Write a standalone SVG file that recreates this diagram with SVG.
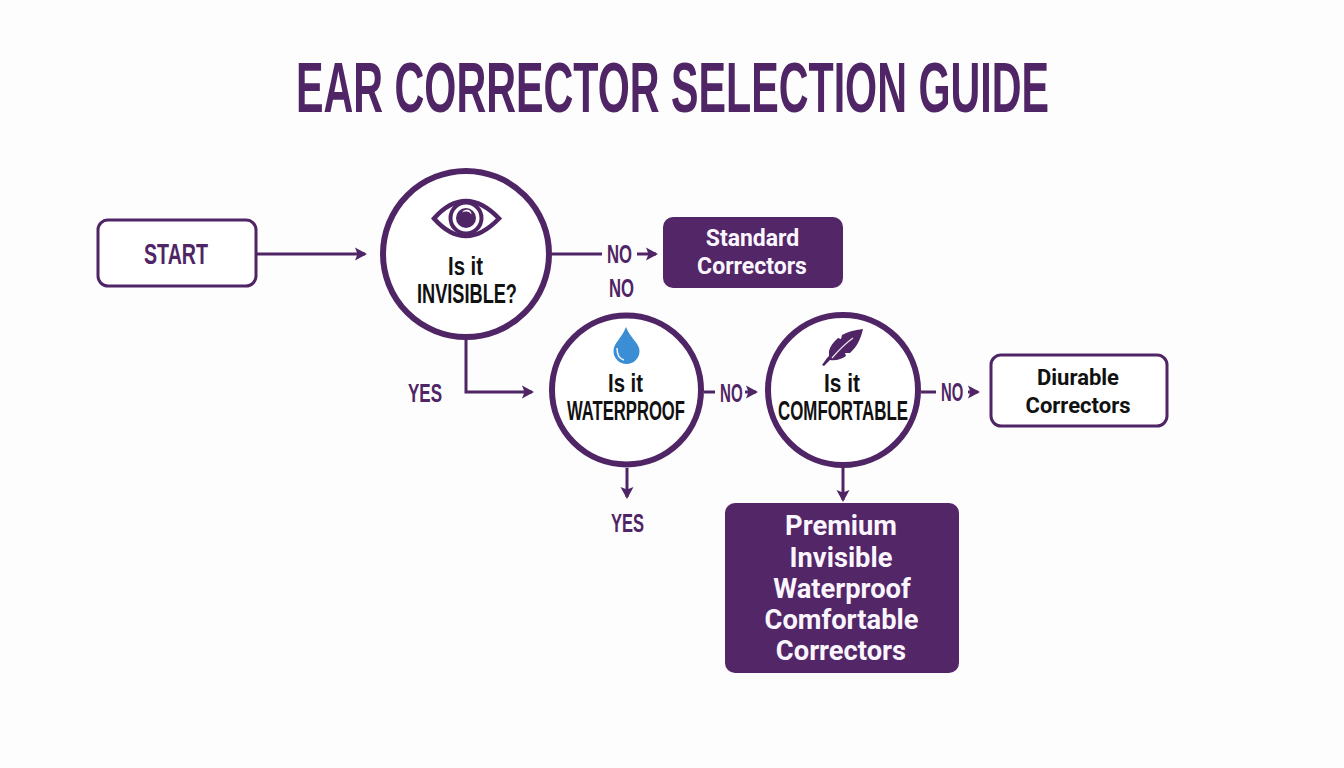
<svg xmlns="http://www.w3.org/2000/svg" width="1344" height="768" viewBox="0 0 1344 768">
<style>
.c{fill:#fff;stroke:#4f2566;stroke-width:6}
.o{fill:#fff;stroke:#4f2566;stroke-width:3}
.f{fill:#532668}
.l{fill:none;stroke:#4f2566;stroke-width:3}
.t{font-family:"Liberation Sans",Arial,sans-serif;font-weight:700}
.p{fill:#4f2566}
.k{fill:#111}
.r{font-family:Roboto,"Liberation Sans",sans-serif;font-weight:700;text-anchor:middle}
.w{fill:#fbf6fd}
</style>
<defs>
<marker id="a" markerUnits="userSpaceOnUse" markerWidth="14" markerHeight="16" refX="10" refY="8" orient="auto" viewBox="0 0 14 16"><path d="M0,1.500 L12,8 L0,14.500 L2.500,8 Z" fill="#4f2566"/></marker>
</defs>
<rect width="1344" height="768" fill="#fdfdfd"/>
<text class="t p" transform="translate(296,112) scale(0.6017,1)" font-size="70" textLength="1251.500" lengthAdjust="spacingAndGlyphs">EAR CORRECTOR SELECTION GUIDE</text>
<g id="connectors">
<path class="l" d="M257,254H365" marker-end="url(#a)"/>
<path class="l" d="M552,254H602"/>
<path class="l" d="M637,254H656" marker-end="url(#a)"/>
<path class="l" d="M466,340V392H532" marker-end="url(#a)"/>
<path class="l" d="M704,392H715"/>
<path class="l" d="M745,392H756" marker-end="url(#a)"/>
<path class="l" d="M921,392H936"/>
<path class="l" d="M968,392H978" marker-end="url(#a)"/>
<path class="l" d="M627,468V497" marker-end="url(#a)"/>
<path class="l" d="M843,468V500" marker-end="url(#a)"/>
</g>
<g id="start">
<rect class="o" x="98" y="220" width="158" height="66" rx="10"/>
<text class="t p" transform="translate(144,264) scale(0.662,1)" font-size="29" textLength="96.700" lengthAdjust="spacingAndGlyphs">START</text>
</g>
<g id="invisible">
<circle class="c" cx="466" cy="254" r="83"/>
<path d="M434,218.500 C445,206 455,201 466,201 S487,206 499,218.500 C487,231 477,236 466,236 S445,231 434,218.500 Z" fill="none" stroke="#4f2566" stroke-width="4.500"/>
<circle cx="466" cy="218" r="15.500" fill="none" stroke="#4f2566" stroke-width="4"/>
<circle cx="466" cy="218" r="10" fill="#4f2566"/>
<path d="M462,212.500 A7,7 0 0 1 471.500,214.500 A5,5 0 0 0 462,212.500 Z" fill="#fff"/>
<text class="t k" transform="translate(448,275) scale(0.812,1)" font-size="25" textLength="43.100" lengthAdjust="spacingAndGlyphs">Is it</text>
<text class="t k" transform="translate(417,303) scale(0.649,1)" font-size="28" textLength="154" lengthAdjust="spacingAndGlyphs">INVISIBLE?</text>
</g>
<g id="waterproof">
<circle class="c" cx="626.500" cy="390" r="74.500"/>
<path d="M626,327 C622,338 613.500,343 613.500,351 A13,13 0 0 0 639.500,351 C639.500,343 630,338 626,327 Z" fill="#3b8dd4"/>
<path d="M617,348 C617,355 620,359 624,360" fill="none" stroke="#e8f3fb" stroke-width="1.500"/>
<text class="t k" transform="translate(608,392) scale(0.812,1)" font-size="25" textLength="43.100" lengthAdjust="spacingAndGlyphs">Is it</text>
<text class="t k" transform="translate(567,420) scale(0.6,1)" font-size="28" textLength="196.600" lengthAdjust="spacingAndGlyphs">WATERPROOF</text>
</g>
<g id="comfortable">
<circle class="c" cx="843" cy="390" r="75"/>
<path d="M863,329 C854,330 847,332 842,335 L841,339 L838,338 C833,342 830,347 829,351 L829,356 L827,358 L822,365 L824,366 L830,360 C836,361 842,359 846,356 L845,353 L850,353 C857,347 861,338 863,329 Z" fill="#4f2566"/>
<path d="M853,338 C846,343 838,351 832,358" fill="none" stroke="#efe6f3" stroke-width="1.200"/>
<text class="t k" transform="translate(824,392) scale(0.835,1)" font-size="25" textLength="43.100" lengthAdjust="spacingAndGlyphs">Is it</text>
<text class="t k" transform="translate(778,420) scale(0.597,1)" font-size="28" textLength="217.800" lengthAdjust="spacingAndGlyphs">COMFORTABLE</text>
</g>
<g id="standard">
<rect class="f" x="663" y="217" width="180" height="71" rx="10"/>
<text class="r w" x="752.500" y="246" font-size="23">Standard</text>
<text class="r w" x="752" y="274" font-size="23">Correctors</text>
</g>
<g id="durable">
<rect class="o" x="991" y="355" width="176" height="71" rx="10"/>
<text class="r k" x="1078" y="385" font-size="22">Diurable</text>
<text class="r k" x="1078" y="413" font-size="22">Correctors</text>
</g>
<g id="premium">
<rect class="f" x="725" y="503" width="234" height="170" rx="10"/>
<g font-size="27.300">
<text class="r w" x="841" y="535">Premium</text>
<text class="r w" x="841" y="567">Invisible</text>
<text class="r w" x="842" y="598">Waterproof</text>
<text class="r w" x="841.500" y="629">Comfortable</text>
<text class="r w" x="841" y="660">Correctors</text>
</g>
</g>
<g id="labels">
<text class="t p" transform="translate(607,263) scale(0.641,1)" font-size="26" textLength="39" lengthAdjust="spacingAndGlyphs">NO</text>
<text class="t p" transform="translate(609,297) scale(0.641,1)" font-size="26" textLength="39" lengthAdjust="spacingAndGlyphs">NO</text>
<text class="t p" transform="translate(408,402) scale(0.654,1)" font-size="26" textLength="52" lengthAdjust="spacingAndGlyphs">YES</text>
<text class="t p" transform="translate(611,532) scale(0.634,1)" font-size="26" textLength="52" lengthAdjust="spacingAndGlyphs">YES</text>
<text class="t p" transform="translate(720,402) scale(0.58,1)" font-size="26" textLength="39" lengthAdjust="spacingAndGlyphs">NO</text>
<text class="t p" transform="translate(941,401) scale(0.57,1)" font-size="26" textLength="39" lengthAdjust="spacingAndGlyphs">NO</text>
</g>
</svg>
